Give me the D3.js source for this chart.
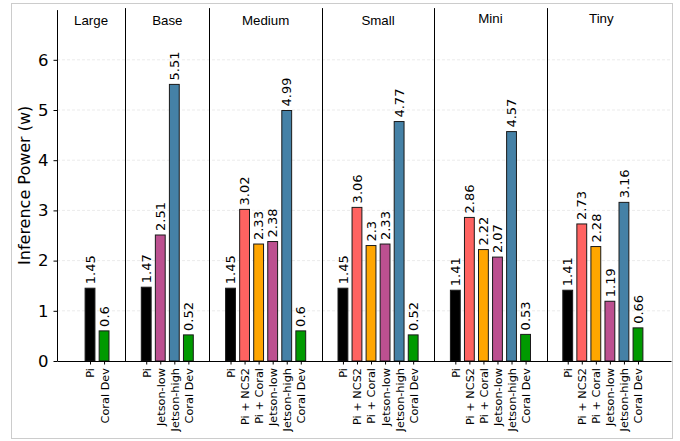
<!DOCTYPE html>
<html>
<head>
<meta charset="utf-8">
<script src="https://cdn.jsdelivr.net/npm/d3@7"></script>
<style>
  body { margin: 0; background: #fff; }
  svg { display: block; }
</style>
</head>
<body>
<div id="chart"></div>
<script>
// datos
var grupos = ["Large", "Base", "Medium", "Small", "Mini", "Tiny"];
var dispositivos = [
  ["Pi", "Coral Dev"],
  ["Pi", "Jetson-low", "Jetson-high", "Coral Dev"],
  ["Pi", "Pi + NCS2", "Pi + Coral", "Jetson-low", "Jetson-high", "Coral Dev"],
  ["Pi", "Pi + NCS2", "Pi + Coral", "Jetson-low", "Jetson-high", "Coral Dev"],
  ["Pi", "Pi + NCS2", "Pi + Coral", "Jetson-low", "Jetson-high", "Coral Dev"],
  ["Pi", "Pi + NCS2", "Pi + Coral", "Jetson-low", "Jetson-high", "Coral Dev"]
];
var potencia = [
  [1.45, 0.6],
  [1.47, 2.51, 5.51, 0.52],
  [1.45, 3.02, 2.33, 2.38, 4.99, 0.6],
  [1.45, 3.06, 2.3, 2.33, 4.77, 0.52],
  [1.41, 2.86, 2.22, 2.07, 4.57, 0.53],
  [1.41, 2.73, 2.28, 1.19, 3.16, 0.66]
];
var yTicks = [0, 1, 2, 3, 4, 5, 6];

var colores = {
  "Pi": "#000000",
  "Pi + NCS2": "#ff6361",
  "Pi + Coral": "#ffa600",
  "Jetson-low": "#bc5090",
  "Jetson-high": "#4581a6",
  "Coral Dev": "#009a00"
};

function graficar_potencia(selector, ancho, altura) {
  var margin = { top: 9.6, right: 9, bottom: 80, left: 57 };
  var w = ancho - margin.left - margin.right,
    h = altura - margin.top - margin.bottom;

  // posiciones: cada grupo seguido de 2 huecos
  var data = [], rangos = [];
  var pos = 0;
  grupos.forEach(function (g, gi) {
    var ini = pos;
    dispositivos[gi].forEach(function (d, di) {
      data.push({ grupo: g, dev: d, value: potencia[gi][di], x: pos });
      pos++;
    });
    rangos.push([ini, pos - 1]);
    pos += 2;
  });
  var ultimo = data[data.length - 1].x;

  var x = d3.scaleLinear()
    .domain([-2.35, ultimo + 2.35])
    .range([0, w]);
  var y = d3.scaleLinear()
    .domain([0, 7])
    .range([h, 0]);

  var svg = d3.select(selector).append("svg")
    .attr("width", ancho)
    .attr("height", altura);

  // borde gris de la figura
  svg.append("rect")
    .attr("x", 11.5).attr("y", 3.5)
    .attr("width", 661).attr("height", 435)
    .attr("fill", "none")
    .attr("stroke", "#cccccc")
    .attr("stroke-width", 1);

  var g = svg.append("g")
    .attr("transform", "translate(" + margin.left + "," + margin.top + ")");

  // grid
  g.selectAll(".grid")
    .data(yTicks.slice(1))
    .enter().append("line")
    .attr("x1", 0).attr("x2", w)
    .attr("y1", function (d) { return y(d); })
    .attr("y2", function (d) { return y(d); })
    .attr("stroke", "#e6e6e6")
    .attr("stroke-width", 0.8)
    .style("stroke-dasharray", "3,2");

  var bw = 0.7;
  g.selectAll(".bar")
    .data(data)
    .enter().append("rect")
    .attr("class", "bar")
    .attr("x", function (d) { return x(d.x - bw / 2); })
    .attr("width", x(bw) - x(0))
    .attr("y", function (d) { return y(d.value); })
    .attr("height", function (d) { return y(0) - y(d.value); })
    .attr("fill", function (d) { return colores[d.dev]; })
    .attr("stroke", "#1a1a1a")
    .attr("stroke-width", 1);

  g.selectAll(".valor")
    .data(data)
    .enter().append("text")
    .attr("class", "valor")
    .attr("transform", function (d) {
      return "translate(" + x(d.x) + "," + (y(d.value) - 4) + ") rotate(-90)";
    })
    .attr("dy", "0.36em")
    .style("font-family", "DejaVu Sans")
    .style("font-size", "13px")
    .style("fill", "#000")
    .text(function (d) { return String(d.value); });

  // separadores entre grupos
  var seps = rangos.slice(0, -1).map(function (r, i) {
    return (r[1] + rangos[i + 1][0]) / 2;
  });
  g.selectAll(".sep")
    .data(seps)
    .enter().append("line")
    .attr("x1", function (d) { return Math.round(x(d)) + 0.5; })
    .attr("x2", function (d) { return Math.round(x(d)) + 0.5; })
    .attr("y1", y(0))
    .attr("y2", -1.5)
    .attr("stroke", "#000")
    .attr("stroke-width", 1);

  // etiquetas de grupo
  g.selectAll(".grupo")
    .data(grupos)
    .enter().append("text")
    .attr("x", function (d, i) {
      if (i == 0) return (x.range()[0] + x(seps[0])) / 2;
      return x((rangos[i][0] + rangos[i][1]) / 2) - (i == grupos.length - 1 ? 1.5 : 0);
    })
    .attr("y", function (d, i) { return i >= 4 ? 13.5 : 15; })
    .attr("text-anchor", "middle")
    .style("font-family", "Liberation Sans, Arial, sans-serif")
    .style("font-size", "13.3px")
    .text(function (d) { return d; });

  // eje x
  var ejeX = g.append("g")
    .attr("transform", "translate(0," + h + ")")
    .call(d3.axisBottom(x)
      .tickValues(data.map(function (d) { return d.x; }))
      .tickFormat(function (v) { return data.find(function (d) { return d.x === v; }).dev; })
      .tickSize(3.5)
      .tickSizeOuter(0));
  ejeX.selectAll("text")
    .attr("y", 0)
    .attr("x", -7)
    .attr("dy", "0.35em")
    .attr("transform", "rotate(-90)")
    .style("text-anchor", "end")
    .style("font-family", "DejaVu Sans")
    .style("font-size", "11.3px")
    .style("fill", "#000");

  // eje y
  var ejeY = g.append("g")
    .call(d3.axisLeft(y)
      .tickValues(yTicks)
      .tickFormat(d3.format("d"))
      .tickSize(3.5)
      .tickPadding(5)
      .tickSizeOuter(0));
  ejeY.selectAll("text")
    .style("font-family", "DejaVu Sans")
    .style("font-size", "16.5px")
    .style("fill", "#000");
  ejeY.selectAll("path, line").attr("stroke", "#000");
  ejeX.selectAll("path, line").attr("stroke", "#000");

  svg.append("text")
    .attr("transform", "translate(30," + (margin.top + h / 2) + ") rotate(-90)")
    .attr("text-anchor", "middle")
    .style("font-family", "DejaVu Sans")
    .style("font-size", "16px")
    .text("Inference Power (w)");
}

graficar_potencia("#chart", 680, 441);
</script>
</body>
</html>
